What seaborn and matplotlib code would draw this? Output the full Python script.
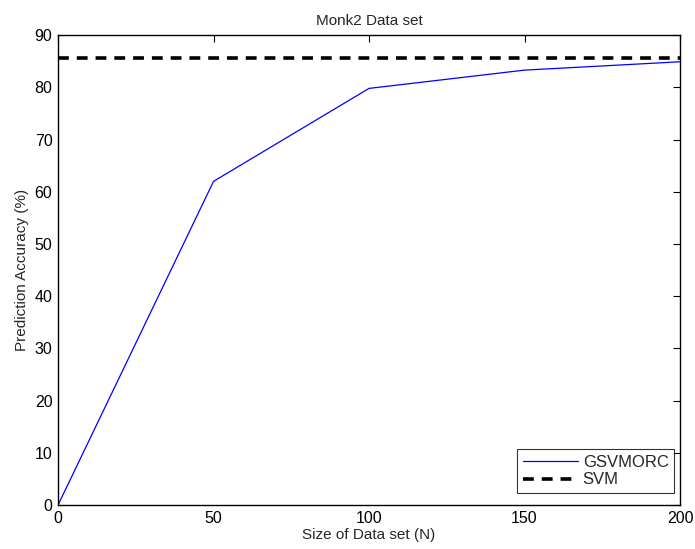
import matplotlib
matplotlib.use("Agg")
import matplotlib.pyplot as plt
import seaborn as sns
import pandas as pd

sizes = [0, 50, 100, 150, 200]
gsvmorc = [0, 62.0, 79.8, 83.3, 84.9]
svm_acc = 85.6
x_ticks = [0, 50, 100, 150, 200]
y_ticks = [0, 10, 20, 30, 40, 50, 60, 70, 80, 90]

sns.set_theme(style="white")
plt.rcParams['font.family'] = ['Liberation Sans', 'DejaVu Sans']

fig = plt.figure(figsize=(6.95, 5.49), dpi=100)
ax = fig.add_axes([0.0835, 0.080, 0.895, 0.856])

df1 = pd.DataFrame({"N": sizes, "acc": gsvmorc})
df2 = pd.DataFrame({"N": [sizes[0], sizes[-1]], "acc": [svm_acc, svm_acc]})
sns.lineplot(data=df1, x="N", y="acc", ax=ax, color="#0000ff", linewidth=0.9, label="GSVMORC")
sns.lineplot(data=df2, x="N", y="acc", ax=ax, color="black", linewidth=2.6,
             linestyle=(0, (3.0, 2.2)), label="SVM")

ax.set_xlim(0, 200)
ax.set_ylim(0, 90)
ax.set_xticks(x_ticks)
ax.set_yticks(y_ticks)
ax.tick_params(direction="in", length=5, width=0.8, top=True, right=True,
               labelsize=11.5, colors="black", pad=4)
for s in ax.spines.values():
    s.set_visible(True)
    s.set_color("black")
    s.set_linewidth(1.0)
ax.set_xlabel("Size of Data set (N)", fontsize=11, labelpad=2)
ax.set_ylabel("Prediction Accuracy (%)", fontsize=11, labelpad=4)
ax.set_title("Monk2 Data set", fontsize=11, pad=7)
ax.grid(False)

leg = ax.legend(loc="lower right", fontsize=12, frameon=True, fancybox=False,
                borderaxespad=0.15, handlelength=3.3, handletextpad=0.3,
                borderpad=0.35, labelspacing=0.15, bbox_to_anchor=(0.995, 0.02))
leg.get_frame().set_edgecolor("black")
leg.get_frame().set_linewidth(0.8)

fig.savefig("out.png", dpi=100)
